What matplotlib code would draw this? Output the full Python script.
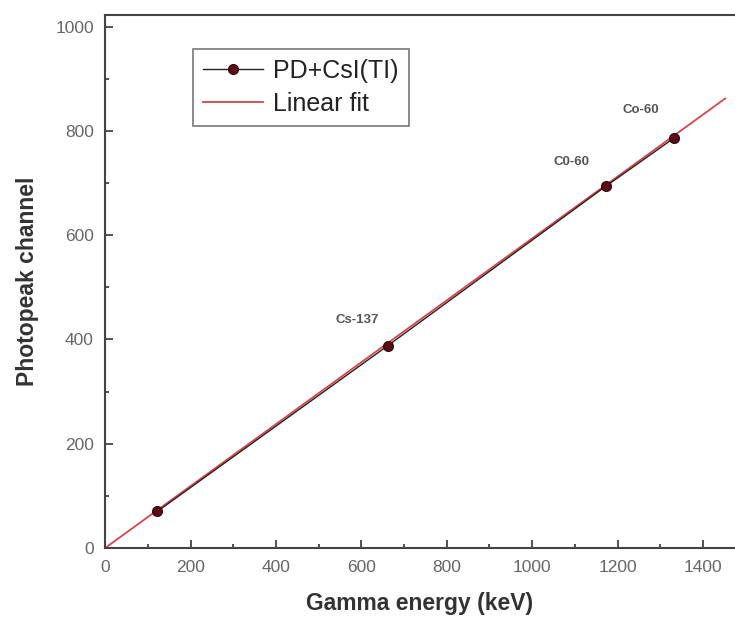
import matplotlib
matplotlib.use("Agg")
import matplotlib.pyplot as plt
from matplotlib.ticker import MultipleLocator

plt.rcParams['font.family'] = ['Liberation Sans', 'DejaVu Sans']

energy = [122, 662, 1173, 1332]
channel = [70, 388, 694, 786]
labels = ["", "Cs-137", "C0-60", "Co-60"]
label_pos_x = [None, 590, 1093, 1255]
label_pos_y = [None, 438, 741, 839]
fit_x = [0, 1452]
fit_y = [0, 862]

fig = plt.figure(figsize=(7.35, 6.27), dpi=100)
ax = fig.add_axes([0.143, 0.126, 0.857, 0.850])

ax.plot(energy, channel, color='#222222', lw=1.0, marker='o', markersize=7,
        markerfacecolor='#5a0d18', markeredgecolor='#3a0a10', label='PD+CsI(TI)', zorder=3)
ax.plot(fit_x, fit_y, color='#d9434b', lw=1.3, label='Linear fit', zorder=2)

for lx, ly, t in zip(label_pos_x, label_pos_y, labels):
    if t:
        ax.text(lx, ly, t, fontsize=9.5, fontweight='bold', color='#555555', ha='center', va='center')

ax.set_xlim(0, 1475)
ax.set_ylim(0, 1022)
ax.xaxis.set_major_locator(MultipleLocator(200))
ax.xaxis.set_minor_locator(MultipleLocator(100))
ax.yaxis.set_major_locator(MultipleLocator(200))
ax.yaxis.set_minor_locator(MultipleLocator(100))
ax.tick_params(which='both', direction='in', colors='#444444', labelcolor='#666666', width=1.3)
ax.tick_params(which='major', length=6, labelsize=12.5, pad=8)
ax.tick_params(which='minor', length=3)
ax.tick_params(axis='x', which='major', pad=9)

for s in ['left', 'bottom', 'top']:
    ax.spines[s].set_color('#444444')
    ax.spines[s].set_linewidth(1.5)
ax.spines['right'].set_visible(False)

ax.set_xlabel('Gamma energy (keV)', fontsize=16.5, fontweight='bold', color='#333333', labelpad=12)
ax.set_ylabel('Photopeak channel', fontsize=16.5, fontweight='bold', color='#333333', labelpad=12)

leg = ax.legend(loc='upper left', bbox_to_anchor=(0.14, 0.936), fontsize=18, frameon=True,
                fancybox=False, edgecolor='#555555', handlelength=2.4, handletextpad=0.4,
                borderpad=0.4, labelspacing=0.35, borderaxespad=0)
leg.get_frame().set_linewidth(1.2)
for t in leg.get_texts():
    t.set_color('#222222')

fig.savefig('out.png', dpi=100)
